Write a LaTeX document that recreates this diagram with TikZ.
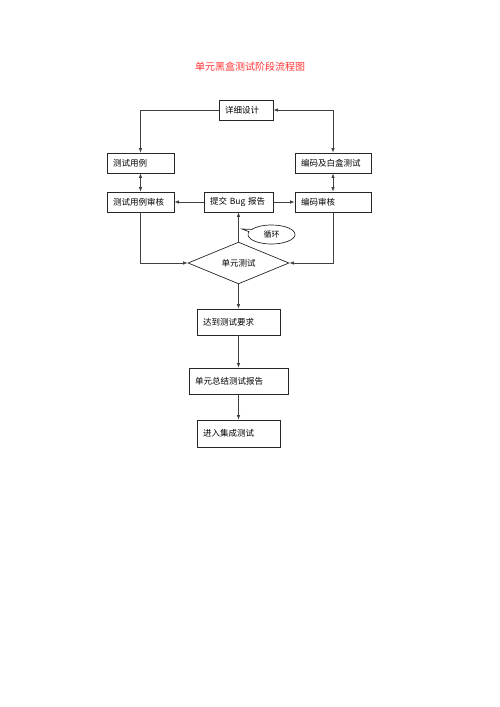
\documentclass[tikz,border=0pt]{standalone}
\usepackage{fontspec}
\setmainfont{Noto Sans CJK SC}
\usetikzlibrary{shapes.geometric,shapes.callouts,arrows.meta}
\begin{document}
\begin{tikzpicture}[x=1pt,y=-1pt,
  box/.style={draw=black!85, line width=0.7pt, rectangle, minimum height=20pt, inner xsep=6pt, inner ysep=0pt, align=left, font=\fontsize{8.5}{10}\selectfont},
  conn/.style={draw=black!75, line width=0.8pt, -{Latex[length=4.5pt,width=3.5pt]}},
  dconn/.style={draw=black!75, line width=0.8pt, {Latex[length=4.5pt,width=3.5pt]}-{Latex[length=4.5pt,width=3.5pt]}}]
\useasboundingbox (0,0) rectangle (500,707);
\node[text=red!80, font=\fontsize{10}{12}\selectfont] (title) at (250,67) {单元黑盒测试阶段流程图};
\node[box, text width=42pt] (d) at (246,110) {详细设计};
\node[box, text width=55pt] (tc) at (140.5,163) {测试用例};
\node[box, text width=64pt] (bm) at (333,163) {编码及白盒测试};
\node[box, text width=55pt] (tcr) at (140.5,202) {测试用例审核};
\node[box, text width=57pt, inner xsep=6pt] (bug) at (238.5,202) {提交 Bug 报告};
\node[box, text width=64pt] (cr) at (333,202) {编码审核};
\node[draw=black!85, line width=0.7pt, diamond, minimum width=101pt, minimum height=38pt, inner sep=0pt, font=\fontsize{8.5}{10}\selectfont] (dia) at (238.5,263) {单元测试};
\node[draw=black!85, line width=0.7pt, ellipse callout, minimum width=47pt, minimum height=19pt, inner sep=0pt, callout absolute pointer={(242,229)}, font=\fontsize{8}{10}\selectfont] (loop) at (271.5,234.5) {循环};
\node[box, minimum height=26pt, text width=71pt] (r1) at (238.5,322) {达到测试要求};
\node[box, minimum height=26pt, text width=87pt] (r2) at (238.5,381) {单元总结测试报告};
\node[box, minimum height=27pt, text width=71pt] (r3) at (238.5,433.5) {进入集成测试};
\draw[conn] (d.west) -| (tc.north);
\draw[dconn] (d.east) -| (bm.north);
\draw[dconn] (tc.south) -- (tcr.north);
\draw[dconn] (bm.south) -- (cr.north);
\draw[conn] (bug.west) -- (tcr.east);
\draw[conn] (bug.east) -- (cr.west);
\draw[conn] (tcr.south) |- (dia.west);
\draw[conn] (cr.south) |- (dia.east);
\draw[conn] (dia.north) -- (bug.south);
\draw[conn] (dia.south) -- (r1.north);
\draw[conn] (r1.south) -- (r2.north);
\draw[conn] (r2.south) -- (r3.north);
\end{tikzpicture}
\end{document}
